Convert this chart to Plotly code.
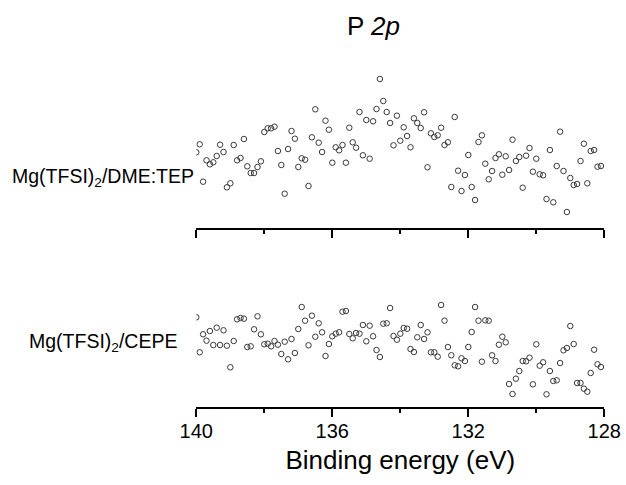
import plotly.graph_objects as go

# Binding energy grid (eV), 0.1 eV step from 140.0 down
n_points = 120
energy = [round(140.0 - 0.1 * i, 1) for i in range(n_points)]

# Intensities (arbitrary units)
dme_tep = [75.7, 83.7, 46.3, 67.7, 63.7, 65.7, 72, 83.3, 76, 40.7,
           44.7, 83, 67.7, 70, 89, 61.7, 55, 55, 61, 66.7,
           96, 99.7, 99.7, 101.3, 77, 63, 34.3, 79, 97, 89.3,
           61, 69.7, 68.3, 42, 90.7, 118.7, 85.3, 76, 107.3, 98.3,
           65.3, 80.7, 77.7, 83, 65.3, 100.3, 85.7, 80.3, 116, 72.7,
           108, 69.3, 106.7, 119, 149, 127, 116, 105, 82.7, 112.3,
           87.3, 100.7, 92, 80.7, 109.7, 105, 100, 115.7, 60.7, 94.7,
           91, 92.7, 100.3, 83, 85.7, 41, 111, 57.3, 37, 53,
           73, 41, 28, 86, 92.7, 64.3, 48.7, 57, 70, 73.7,
           53.3, 71.7, 58, 88.3, 67, 71, 40.3, 72.3, 80, 56.3,
           69.3, 53.7, 52.7, 29, 78, 25.7, 62, 96.3, 57, 16,
           50, 43, 44, 67, 84.3, 44.7, 77, 78, 61.3, 62]

cepe = [89.7, 54.7, 72.7, 66.3, 76, 62, 79.3, 62, 76.7, 61.3,
        39.7, 66, 87.7, 89, 88.3, 60, 60.7, 77.7, 90.7, 72.7,
        62.7, 63.3, 60.7, 66, 62.3, 53, 65.3, 47.7, 68, 54,
        78, 100, 86.3, 61.7, 91.3, 70.3, 83.7, 74.7, 51, 63,
        70.7, 73.3, 74.7, 95.3, 96, 73, 68.7, 74, 73.3, 82,
        65.7, 81.3, 70.7, 57, 50, 83.3, 83.7, 99, 71, 67.3,
        73.3, 79, 78.3, 58, 55, 69.7, 82, 68, 74.7, 54.7,
        54.7, 50.3, 102, 86.3, 60, 51.7, 41.7, 40.7, 48.7, 46,
        60, 75, 100, 86.3, 45.3, 86.7, 86.3, 51.7, 46, 62.3,
        70.3, 64.7, 23, 13, 28.3, 36, 46, 45.7, 49.3, 22.7,
        62.7, 41.3, 44.7, 12.7, 36, 26, 26.7, 44, 56.7, 59,
        81, 63, 24, 24, 18.3, 15.3, 34, 57.3, 42.7, 40]

x_ticks = [140, 136, 132, 128]
x_range = [140, 128]
sample_labels = ["Mg(TFSI)<sub>2</sub>/DME:TEP", "Mg(TFSI)<sub>2</sub>/CEPE"]
title_text = "P <i>2p</i>"
x_title = "Binding energy (eV)"

W, H = 626, 485
FONT = "Liberation Sans, Arial, sans-serif"
x_dom = [196.3 / W, 604.3 / W]
top_dom = [1 - 228 / H, 1 - 60 / H]
bot_dom = [1 - 407 / H, 1 - 290 / H]

marker = dict(symbol="circle-open", size=5.5, color="#3a3a3a", line=dict(width=1, color="#3a3a3a"))

fig = go.Figure()
fig.add_trace(go.Scatter(x=energy, y=dme_tep, mode="markers", marker=marker,
                         xaxis="x2", yaxis="y2", showlegend=False))
fig.add_trace(go.Scatter(x=energy, y=cepe, mode="markers", marker=marker,
                         xaxis="x", yaxis="y", showlegend=False))

axis_common = dict(range=x_range, domain=x_dom, showline=True, linecolor="black", linewidth=1.8,
                   ticks="outside", ticklen=8, tickwidth=1.6, tickcolor="black",
                   tickvals=x_ticks, showgrid=False, zeroline=False, automargin=False,
                   minor=dict(ticks="outside", ticklen=4, tickwidth=1.6, tickcolor="black", dtick=2))

fig.update_layout(
    width=W, height=H,
    margin=dict(l=0, r=0, t=0, b=0, autoexpand=False),
    paper_bgcolor="white", plot_bgcolor="white",
    font=dict(family=FONT, color="black"),
    xaxis=dict(**axis_common, anchor="y", showticklabels=True, ticklabelstandoff=-3,
               tickfont=dict(size=20, family=FONT),
               title=dict(text=x_title, font=dict(size=26, family=FONT), standoff=10)),
    xaxis2=dict(**axis_common, anchor="y2", showticklabels=False),
    yaxis=dict(domain=bot_dom, range=[0, 117], visible=False, automargin=False),
    yaxis2=dict(domain=top_dom, range=[0, 168], visible=False, automargin=False),
    annotations=[
        dict(text=title_text, x=373 / W, y=1 - 26 / H, xref="paper", yref="paper",
             xanchor="center", yanchor="middle", showarrow=False,
             font=dict(size=26, family=FONT)),
        dict(text=sample_labels[0], x=102.5 / W, y=1 - 177 / H, xref="paper", yref="paper",
             xanchor="center", yanchor="middle", showarrow=False,
             font=dict(size=19.5, family=FONT)),
        dict(text=sample_labels[1], x=102.5 / W, y=1 - 342 / H, xref="paper", yref="paper",
             xanchor="center", yanchor="middle", showarrow=False,
             font=dict(size=19.5, family=FONT)),
    ],
)

fig.write_html("out.html")
